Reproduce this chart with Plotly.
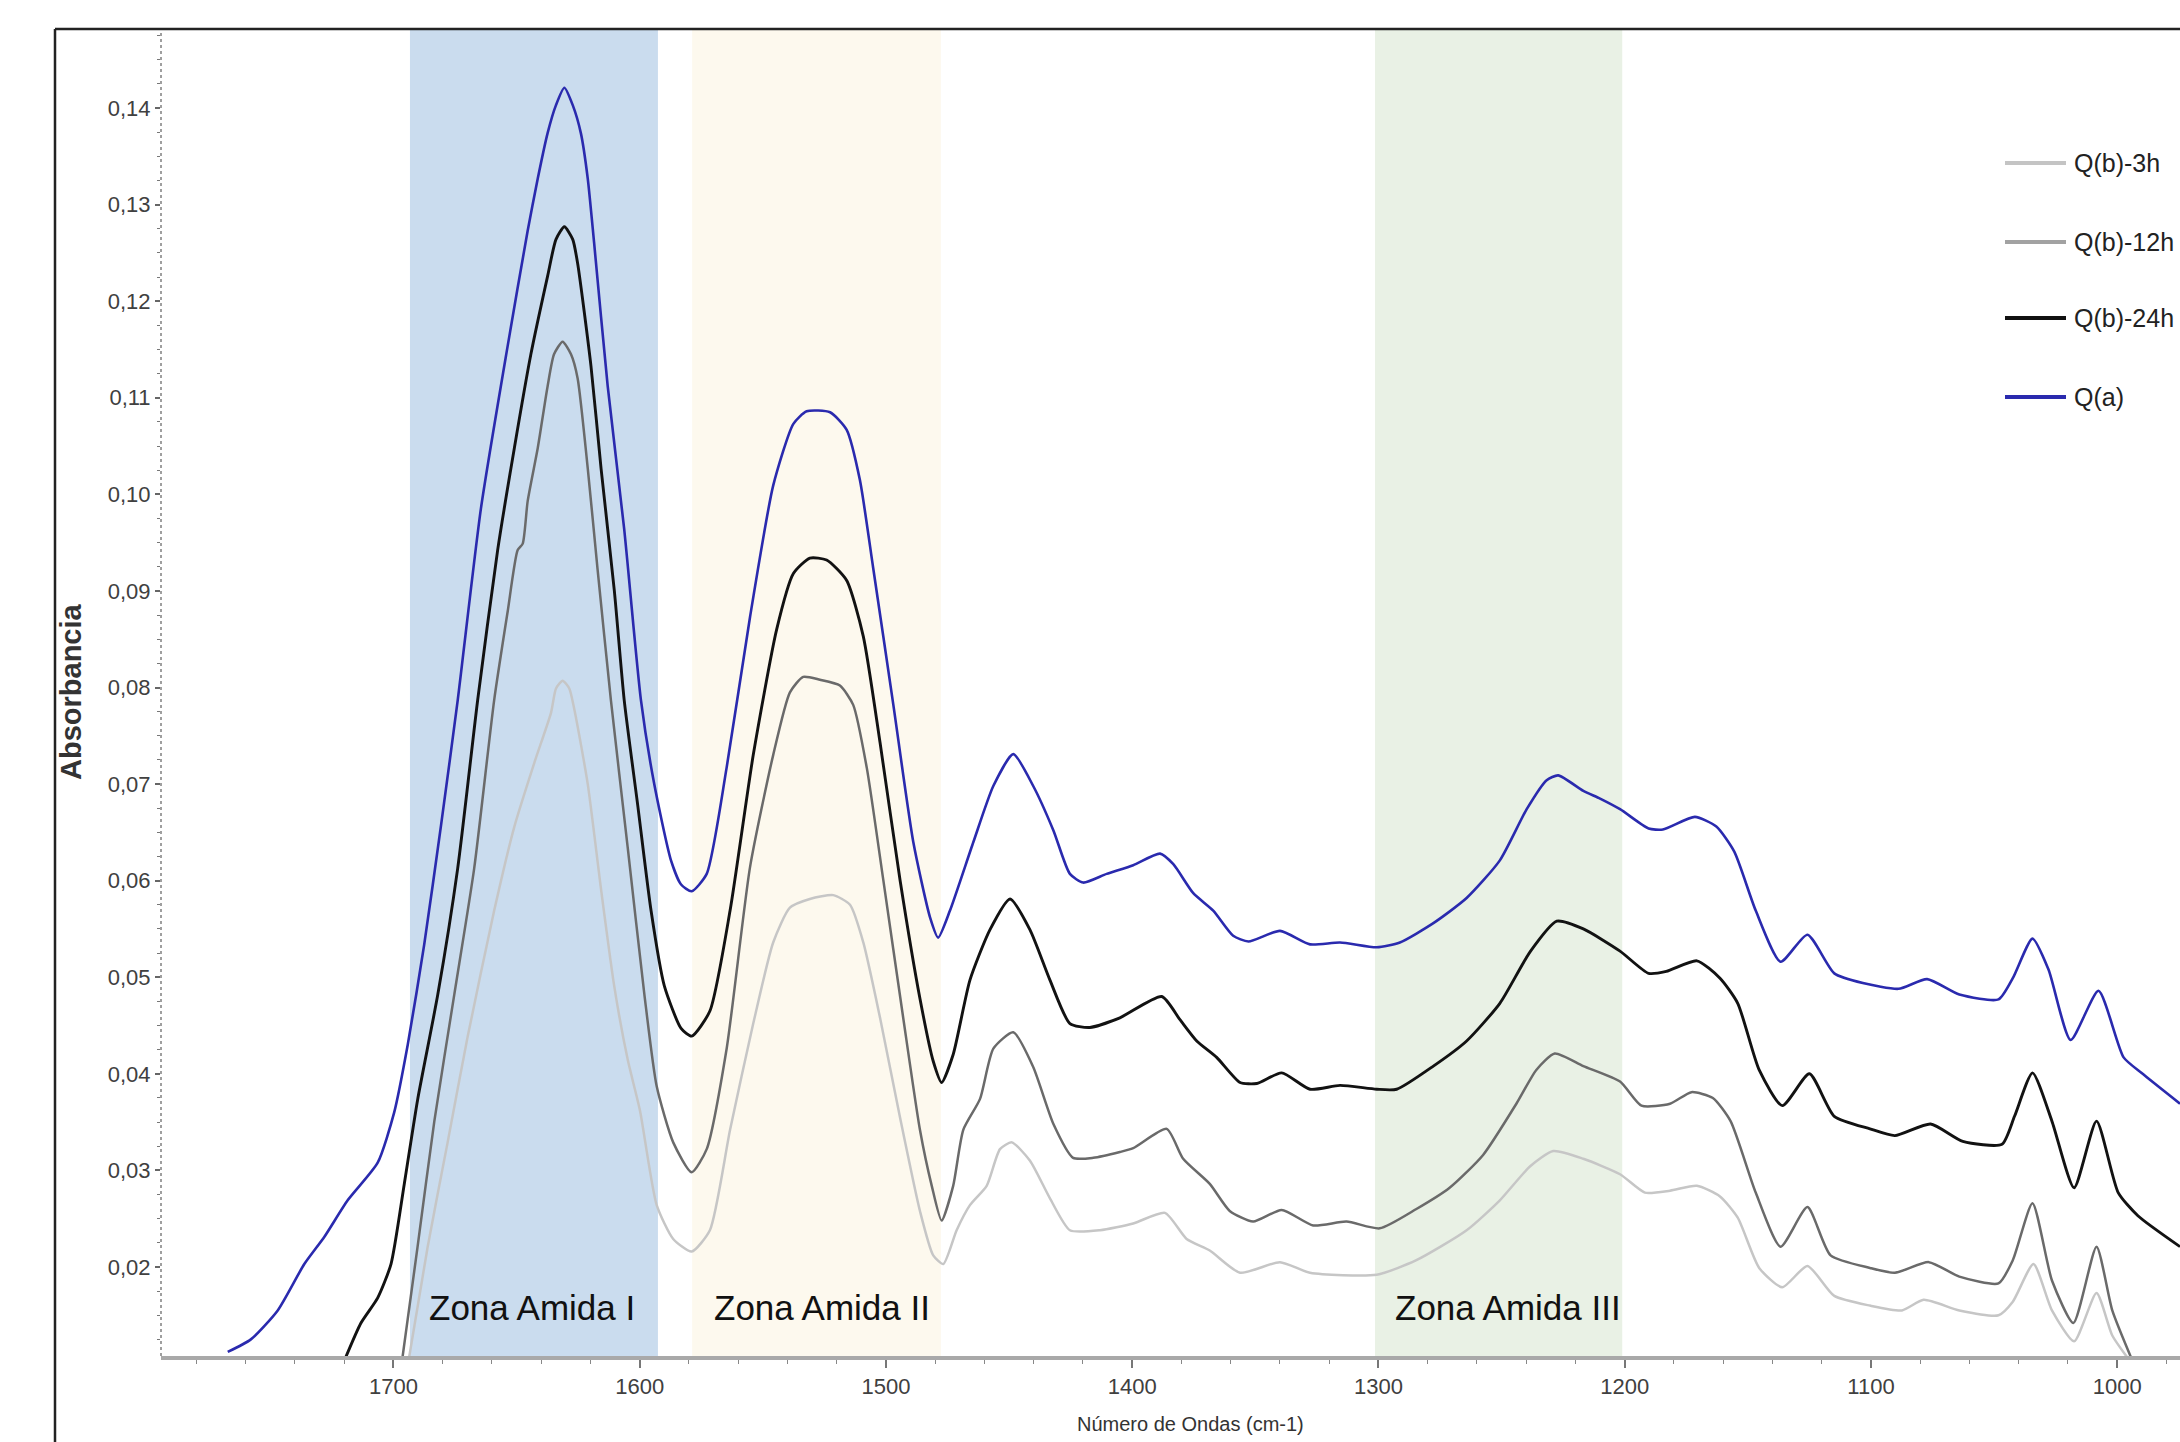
import plotly.graph_objects as go

# ---------------- data ----------------
wn_qa = [1767.3, 1757.9, 1747.0, 1736.2, 1728.1, 1718.6, 1706.4, 1699.7, 1694.2, 1687.5,
         1680.7, 1673.9, 1664.5, 1653.6, 1645.5, 1641.4, 1637.4, 1634.0, 1630.6, 1627.2,
         1623.9, 1621.1, 1618.5, 1613.0,
         1606.3, 1599.5, 1594.1, 1587.3, 1583.2, 1578.9, 1572.8, 1564.7, 1555.2, 1545.8,
         1537.6, 1532.2, 1522.7, 1516.0, 1510.6, 1505.2, 1497.0, 1488.9, 1482.1, 1478.8,
         1474.0, 1464.5, 1456.4, 1448.3, 1440.2, 1432.0, 1425.3, 1419.9, 1410.4, 1399.6,
         1388.7, 1383.3, 1375.2, 1367.1, 1359.0, 1352.8, 1340.0, 1327.8, 1315.6, 1300.7,
         1291.3, 1277.7, 1264.2, 1250.7, 1239.8, 1231.7, 1227.0, 1216.8, 1210.0, 1201.9,
         1190.3, 1184.5, 1171.5, 1162.8, 1155.5, 1146.8, 1136.7, 1125.8, 1114.9, 1103.3,
         1088.8, 1077.2, 1064.1, 1048.2, 1042.4, 1034.4, 1027.9, 1018.9, 1007.6, 997.4,
         990.2, 974.5]
ab_qa = [0.0112, 0.0125, 0.0155, 0.0203, 0.0231, 0.0269, 0.0308, 0.0360, 0.0430, 0.0534,
         0.0657, 0.0787, 0.0985, 0.1154, 0.1273, 0.1327, 0.1374, 0.1403, 0.1421, 0.1403,
         0.1374, 0.1327, 0.1260, 0.1112,
         0.0964, 0.0787, 0.0700, 0.0621, 0.0596, 0.0589, 0.0607, 0.0717, 0.0873, 0.1009,
         0.1073, 0.1086, 0.1085, 0.1067, 0.1015, 0.0924, 0.0782, 0.0640, 0.0562, 0.0541,
         0.0569, 0.0640, 0.0698, 0.0731, 0.0698, 0.0652, 0.0607, 0.0598, 0.0607, 0.0616,
         0.0628, 0.0617, 0.0587, 0.0569, 0.0543, 0.0537, 0.0548, 0.0534, 0.0536, 0.0531,
         0.0536, 0.0556, 0.0582, 0.0621, 0.0674, 0.0704, 0.0709, 0.0693, 0.0685, 0.0674,
         0.0654, 0.0653, 0.0666, 0.0656, 0.0630, 0.0569, 0.0516, 0.0544, 0.0504, 0.0494,
         0.0488, 0.0498, 0.0482, 0.0477, 0.0499, 0.0540, 0.0508, 0.0435, 0.0486, 0.0417,
         0.0401, 0.0369]

wn_24h = [1719.3, 1713.2, 1706.4, 1701.0, 1695.6, 1690.2, 1682.0, 1673.9, 1665.8, 1657.7,
          1650.9, 1644.2, 1637.4, 1634.0, 1630.6, 1627.2, 1625.2, 1619.8, 1615.7, 1610.3,
          1606.3, 1600.8,
          1595.4, 1590.0, 1583.2, 1578.9, 1571.5, 1563.3, 1553.9, 1544.4, 1537.6, 1530.9,
          1524.1, 1516.0, 1509.2, 1502.4, 1494.3, 1486.2, 1480.8, 1477.4, 1472.7, 1465.9,
          1457.8, 1449.6, 1441.5, 1433.4, 1425.3, 1417.2, 1405.0, 1388.0, 1380.6, 1373.8,
          1365.7, 1356.2, 1349.4, 1339.3, 1327.8, 1315.6, 1300.7, 1292.6, 1277.7, 1264.2,
          1250.7, 1238.5, 1227.6, 1216.8, 1201.9, 1190.3, 1183.1, 1170.7, 1161.3, 1154.1,
          1145.4, 1136.0, 1125.0, 1114.9, 1100.4, 1090.3, 1075.8, 1062.7, 1046.8, 1041.7,
          1034.4, 1026.5, 1017.5, 1008.4, 999.6, 991.6, 974.5]
ab_24h = [0.0107, 0.0142, 0.0168, 0.0203, 0.0286, 0.0373, 0.0482, 0.0613, 0.0787, 0.0942,
          0.1048, 0.1145, 0.1226, 0.1264, 0.1277, 0.1264, 0.1239, 0.1133, 0.1027, 0.0900,
          0.0787, 0.0678,
          0.0569, 0.0491, 0.0447, 0.0439, 0.0465, 0.0569, 0.0730, 0.0860, 0.0918, 0.0934,
          0.0932, 0.0911, 0.0853, 0.0743, 0.0601, 0.0478, 0.0413, 0.0391, 0.0420, 0.0497,
          0.0549, 0.0581, 0.0549, 0.0497, 0.0452, 0.0448, 0.0458, 0.0480, 0.0456, 0.0434,
          0.0417, 0.0391, 0.0390, 0.0401, 0.0384, 0.0388, 0.0384, 0.0384, 0.0408, 0.0434,
          0.0473, 0.0526, 0.0558, 0.0550, 0.0527, 0.0504, 0.0506, 0.0517, 0.0499, 0.0473,
          0.0404, 0.0367, 0.0400, 0.0356, 0.0343, 0.0336, 0.0348, 0.0330, 0.0327, 0.0356,
          0.0401, 0.0351, 0.0282, 0.0351, 0.0277, 0.0253, 0.0221]

wn_12h = [1696.3, 1690.2, 1683.4, 1675.3, 1667.2, 1659.1, 1653.6, 1649.6, 1647.5, 1645.5,
          1641.4, 1637.4, 1634.8, 1631.3, 1627.9, 1625.2, 1621.1, 1617.1, 1611.7, 1604.9,
          1598.1, 1593.1,
          1586.4, 1578.9, 1572.8, 1564.7, 1555.2, 1545.8, 1539.0, 1533.6, 1526.8, 1518.7,
          1513.3, 1507.8, 1501.1, 1493.0, 1486.2, 1481.4, 1477.4, 1472.7, 1468.6, 1461.8,
          1456.4, 1448.3, 1440.2, 1432.0, 1424.0, 1415.8, 1405.0, 1399.6, 1386.0, 1379.3,
          1368.5, 1360.4, 1350.9, 1339.3, 1326.5, 1313.0, 1299.5, 1284.6, 1271.1, 1257.5,
          1244.0, 1235.9, 1228.4, 1216.8, 1201.9, 1193.2, 1181.6, 1172.9, 1164.2, 1157.0,
          1146.8, 1136.7, 1125.8, 1116.4, 1100.4, 1090.3, 1076.5, 1064.1, 1048.2, 1042.4,
          1034.4, 1026.5, 1017.8, 1008.4, 1002.0, 994.5]
ab_12h = [0.0107, 0.0221, 0.0351, 0.0482, 0.0613, 0.0787, 0.0879, 0.0942, 0.0949, 0.0993,
          0.1048, 0.1112, 0.1145, 0.1158, 0.1145, 0.1120, 0.1027, 0.0922, 0.0787, 0.0635,
          0.0482, 0.0387,
          0.0329, 0.0298, 0.0322, 0.0426, 0.0614, 0.0730, 0.0795, 0.0811, 0.0808, 0.0802,
          0.0782, 0.0717, 0.0601, 0.0458, 0.0342, 0.0284, 0.0248, 0.0284, 0.0342, 0.0374,
          0.0426, 0.0443, 0.0407, 0.0348, 0.0313, 0.0313, 0.0319, 0.0323, 0.0343, 0.0312,
          0.0286, 0.0258, 0.0247, 0.0259, 0.0243, 0.0247, 0.0240, 0.0260, 0.0282, 0.0316,
          0.0369, 0.0404, 0.0421, 0.0408, 0.0392, 0.0367, 0.0369, 0.0381, 0.0375, 0.0351,
          0.0277, 0.0221, 0.0262, 0.0212, 0.0199, 0.0194, 0.0205, 0.0190, 0.0183, 0.0207,
          0.0266, 0.0186, 0.0142, 0.0221, 0.0155, 0.0107]

wn_3h = [1693.6, 1686.1, 1678.0, 1669.9, 1659.1, 1650.9, 1642.8, 1636.0, 1634.0, 1631.3,
         1628.6, 1626.6,
         1621.1, 1615.7, 1610.3, 1604.9, 1599.9, 1593.1, 1586.4, 1578.9, 1571.5, 1563.3,
         1553.9, 1545.8, 1539.0, 1530.9, 1521.4, 1514.6, 1509.2, 1502.4, 1494.3, 1486.2,
         1480.8, 1476.7, 1471.3, 1465.9, 1459.1, 1453.7, 1448.9, 1441.5, 1433.4, 1425.3,
         1413.1, 1399.6, 1386.7, 1377.9, 1368.5, 1356.2, 1340.0, 1327.8, 1300.7, 1284.6,
         1264.2, 1250.7, 1238.5, 1229.0, 1216.8, 1201.9, 1191.8, 1181.6, 1170.7, 1161.3,
         1154.1, 1145.4, 1136.0, 1125.8, 1114.9, 1100.4, 1087.4, 1078.6, 1064.1, 1048.2,
         1042.4, 1034.0, 1026.5, 1017.5, 1008.4, 1002.0, 996.1]
ab_3h = [0.0107, 0.0221, 0.0329, 0.0438, 0.0569, 0.0656, 0.0722, 0.0774, 0.0799, 0.0807,
         0.0799, 0.0778,
         0.0700, 0.0591, 0.0490, 0.0415, 0.0362, 0.0264, 0.0229, 0.0216, 0.0238, 0.0342,
         0.0452, 0.0536, 0.0572, 0.0581, 0.0585, 0.0575, 0.0536, 0.0458, 0.0355, 0.0258,
         0.0212, 0.0203, 0.0238, 0.0264, 0.0284, 0.0322, 0.0329, 0.0310, 0.0271, 0.0238,
         0.0238, 0.0245, 0.0256, 0.0229, 0.0217, 0.0194, 0.0205, 0.0194, 0.0192, 0.0207,
         0.0238, 0.0269, 0.0304, 0.0320, 0.0312, 0.0296, 0.0277, 0.0279, 0.0284, 0.0273,
         0.0251, 0.0199, 0.0179, 0.0201, 0.0170, 0.0160, 0.0155, 0.0166, 0.0155, 0.0150,
         0.0164, 0.0203, 0.0155, 0.0123, 0.0173, 0.0129, 0.0107]

series_names = ["Q(b)-3h", "Q(b)-12h", "Q(b)-24h", "Q(a)"]

zone_labels = ["Zona Amida I", "Zona Amida II", "Zona Amida III"]
zone_start = [1693.3, 1578.7, 1301.4]
zone_end = [1592.6, 1477.7, 1201.0]
zone_label_x = [1643.8, 1526.0, 1247.4]
zone_label_y = 0.0158

x_tick_values = [1700, 1600, 1500, 1400, 1300, 1200, 1100, 1000]

# ---------------- styling ----------------
W, H = 2180, 1442
ML, MR, MT, MB = 161, 0, 30, 86
PW, PH = W - ML - MR, H - MT - MB

def px(X):
    return (X - ML) / PW

def py(Y):
    return (H - MB - Y) / PH

SANS = "Liberation Sans, Arial, sans-serif"

line_colors = ["#c6c6c6", "#6a6a6a", "#121212", "#2a2aae"]
legend_colors = ["#c4c4c4", "#a2a2a2", "#111111", "#2a2aae"]
line_widths = [2.5, 2.5, 2.9, 2.6]
zone_fill = ["#cadcee", "#fdf9ee", "#e9f1e5"]

xs = [wn_3h, wn_12h, wn_24h, wn_qa]
ys = [ab_3h, ab_12h, ab_24h, ab_qa]

fig = go.Figure()
for name, x, y, c, w in zip(series_names, xs, ys, line_colors, line_widths):
    assert len(x) == len(y), name
    fig.add_trace(go.Scatter(x=x, y=y, mode="lines", name=name, showlegend=False,
                             line=dict(color=c, width=w, shape="spline", smoothing=0.6),
                             hoverinfo="skip"))

shapes = []
for x0, x1, fc in zip(zone_start, zone_end, zone_fill):
    shapes.append(dict(type="rect", xref="x", yref="paper", x0=x0, x1=x1, y0=0, y1=1,
                       fillcolor=fc, line=dict(width=0), layer="below"))
# dotted y axis line
shapes.append(dict(type="line", xref="paper", yref="paper", x0=0, x1=0, y0=0, y1=1,
                   line=dict(color="#808080", width=1.5, dash="dot")))
# outer frame (left and top edges)
fx = px(55)
fy = py(29)
shapes.append(dict(type="line", xref="paper", yref="paper", x0=fx, x1=1.01, y0=fy, y1=fy,
                   line=dict(color="#222222", width=2.5)))
shapes.append(dict(type="line", xref="paper", yref="paper", x0=fx, x1=fx, y0=py(1460), y1=fy,
                   line=dict(color="#222222", width=2.5)))

annotations = []
for lab, xl in zip(zone_labels, zone_label_x):
    annotations.append(dict(x=xl, y=zone_label_y, xref="x", yref="y", text=lab,
                            showarrow=False, xanchor="center", yanchor="middle",
                            font=dict(family=SANS, size=35, color="#111111")))

# manual legend
legend_rows_Y = [163, 242, 318, 397]
for name, c, Y in zip(series_names, legend_colors, legend_rows_Y):
    shapes.append(dict(type="line", xref="paper", yref="paper", x0=px(2005), x1=px(2066),
                       y0=py(Y), y1=py(Y), line=dict(color=c, width=4)))
    annotations.append(dict(x=px(2072), y=py(Y), xref="paper", yref="paper", text=name,
                            showarrow=False, xanchor="left", yanchor="middle",
                            font=dict(family=SANS, size=25, color="#222222")))

# axis titles
annotations.append(dict(x=px(1190), y=py(1424), xref="paper", yref="paper",
                        text="Número de Ondas (cm-1)", showarrow=False,
                        xanchor="center", yanchor="middle",
                        font=dict(family=SANS, size=20, color="#333333")))
annotations.append(dict(x=px(71), y=py(692), xref="paper", yref="paper",
                        text="<b>Absorbancia</b>", textangle=-90, showarrow=False,
                        xanchor="center", yanchor="middle",
                        font=dict(family=SANS, size=29, color="#333333")))

fig.update_layout(
    width=W, height=H,
    margin=dict(l=ML, r=MR, t=MT, b=MB, pad=0),
    paper_bgcolor="white", plot_bgcolor="white",
    separators=",.",
    showlegend=False,
    shapes=shapes,
    annotations=annotations,
    hovermode=False,
    xaxis=dict(range=[1794.4, 974.5], autorange=False,
               tickmode="array", tickvals=x_tick_values,
               ticktext=[str(v) for v in x_tick_values],
               showgrid=False, zeroline=False,
               showline=True, linecolor="#a9a9a9", linewidth=4,
               ticks="outside", ticklen=8, tickwidth=1.5, tickcolor="#777777",
               minor=dict(dtick=20, tick0=1000, ticks="outside", ticklen=4,
                          tickwidth=1.2, tickcolor="#888888", showgrid=False),
               tickfont=dict(family=SANS, size=22, color="#404040")),
    yaxis=dict(range=[0.01078, 0.14808], autorange=False,
               tick0=0, dtick=0.01, tickformat=".2f",
               showgrid=False, zeroline=False, showline=False,
               ticks="outside", ticklen=5, tickwidth=1.5, tickcolor="#666666",
               minor=dict(dtick=0.0025, tick0=0, ticks="outside", ticklen=3,
                          tickwidth=1.2, tickcolor="#777777", showgrid=False),
               tickfont=dict(family=SANS, size=22, color="#404040")),
)

fig.write_html("out.html", config={"displayModeBar": False},
               post_script="document.body.style.margin='0';document.body.style.overflow='hidden';")
